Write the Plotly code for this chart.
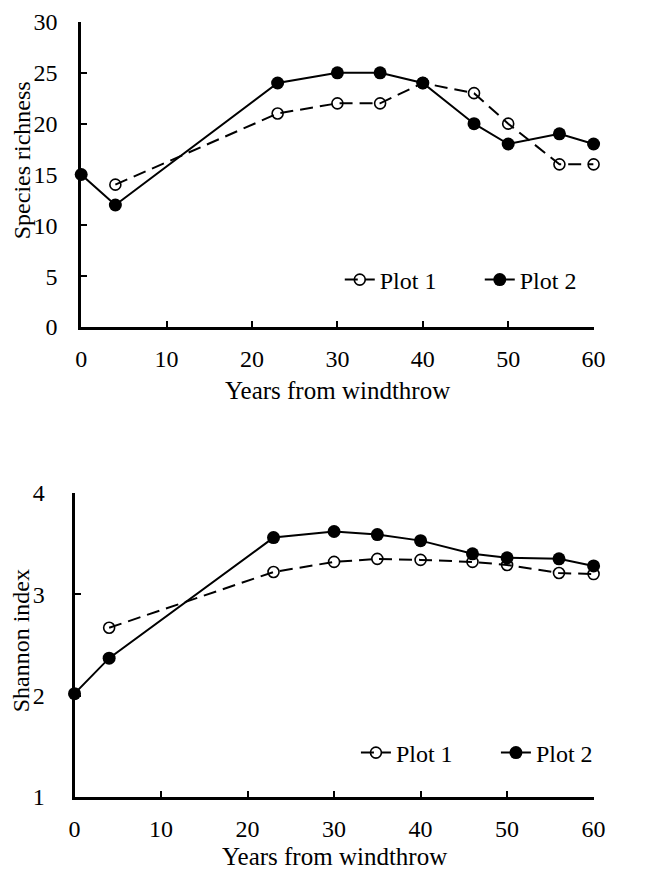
import plotly.graph_objects as go

years_p1 = [4, 23, 30, 35, 40, 46, 50, 56, 60]
years_p2 = [0, 4, 23, 30, 35, 40, 46, 50, 56, 60]

richness_p1 = [14, 21, 22, 22, 24, 23, 20, 16, 16]
richness_p2 = [15, 12, 24, 25, 25, 24, 20, 18, 19, 18]

shannon_p1 = [2.67, 3.22, 3.32, 3.35, 3.34, 3.32, 3.29, 3.21, 3.20]
shannon_p2 = [2.02, 2.37, 3.56, 3.62, 3.59, 3.53, 3.40, 3.36, 3.35, 3.28]

x_ticks = [0, 10, 20, 30, 40, 50, 60]
rich_ticks = [0, 5, 10, 15, 20, 25, 30]
shan_ticks = [1, 2, 3, 4]

x_title = "Years from windthrow"
y_title_top = "Species richness"
y_title_bottom = "Shannon index"

FONT = "Liberation Serif"
OFF = 8            # default body margin of the html page
W, H = 628, 859    # figure fits the 646x877 window together with the margins
FS = 24


def px(x):
    return (x - OFF) / W


def py(y):
    return 1 - (y - OFF) / H


fig = go.Figure()

def add_pair(xa, ya, y1, y2, legend):
    fig.add_trace(go.Scatter(
        x=years_p1, y=y1, name="Plot 1", mode="lines+markers",
        line=dict(color="black", width=2, dash="13px,7px"),
        marker=dict(symbol="circle-open", size=11, color="black", line=dict(width=1.6)),
        xaxis=xa, yaxis=ya, legend=legend, cliponaxis=False))
    fig.add_trace(go.Scatter(
        x=years_p2, y=y2, name="Plot 2", mode="lines+markers",
        line=dict(color="black", width=2),
        marker=dict(symbol="circle", size=13, color="black"),
        xaxis=xa, yaxis=ya, legend=legend, cliponaxis=False))

add_pair("x", "y", richness_p1, richness_p2, "legend")
add_pair("x2", "y2", shannon_p1, shannon_p2, "legend2")

axis_common = dict(
    showline=True, linecolor="black", linewidth=3, ticks="inside", ticklen=6,
    tickwidth=2, tickcolor="black", showgrid=False, zeroline=False, automargin=False,
    tickfont=dict(family=FONT, size=FS, color="black"),
)

title_font = dict(family=FONT, size=FS, color="black")

fig.update_layout(
    width=W, height=H, autosize=False, paper_bgcolor="white", plot_bgcolor="white",
    margin=dict(l=0, r=0, t=0, b=0),
    font=dict(family=FONT, color="black"),
    xaxis=dict(domain=[px(85), px(624)], range=[0, 60], tickvals=x_ticks,
               anchor="y", ticklabelstandoff=8, **axis_common),
    yaxis=dict(domain=[py(327), py(22)], range=[0, 30], tickvals=rich_ticks,
               anchor="x", ticklabelstandoff=16, **axis_common),
    xaxis2=dict(domain=[px(78), px(624)], range=[0, 60], tickvals=x_ticks,
                anchor="y2", ticklabelstandoff=8, **axis_common),
    yaxis2=dict(domain=[py(797), py(493)], range=[1, 4], tickvals=shan_ticks,
                anchor="x2", ticklabelstandoff=22, **axis_common),
    legend=dict(orientation="h", x=px(357), y=py(280), xanchor="left", yanchor="middle",
                font=dict(family=FONT, size=FS, color="black"), bgcolor="rgba(0,0,0,0)",
                entrywidth=95, entrywidthmode="pixels", tracegroupgap=0),
    legend2=dict(orientation="h", x=px(374), y=py(753), xanchor="left", yanchor="middle",
                 font=dict(family=FONT, size=FS, color="black"), bgcolor="rgba(0,0,0,0)",
                 entrywidth=95, entrywidthmode="pixels", tracegroupgap=0),
    annotations=[
        dict(text=x_title, x=px(355), y=py(391), xref="paper", yref="paper",
             showarrow=False, font=dict(family=FONT, size=25, color="black"),
             xanchor="center", yanchor="middle"),
        dict(text=x_title, x=px(351), y=py(856), xref="paper", yref="paper",
             showarrow=False, font=dict(family=FONT, size=25, color="black"),
             xanchor="center", yanchor="middle"),
        dict(text=y_title_top, x=px(23), y=py(160), xref="paper", yref="paper",
             showarrow=False, textangle=-90, font=title_font,
             xanchor="center", yanchor="middle"),
        dict(text=y_title_bottom, x=px(22), y=py(641), xref="paper", yref="paper",
             showarrow=False, textangle=-90, font=title_font,
             xanchor="center", yanchor="middle"),
    ],
)

fig.write_html("out.html")
